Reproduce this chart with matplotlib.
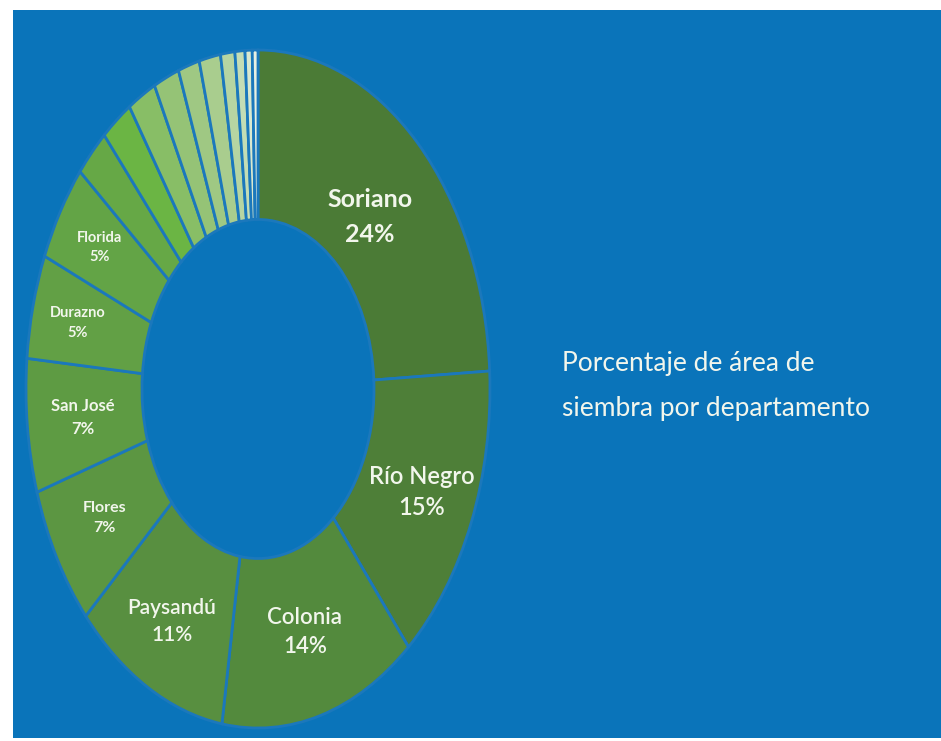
import matplotlib.pyplot as plt
import numpy as np

# Datos: porcentaje de area de siembra por departamento
departamentos = ["Soriano", "Río Negro", "Colonia", "Paysandú",
                 "Flores", "San José", "Durazno", "Florida"]
valores = [24.3, 14.7, 13.8, 10.9, 6.8, 6.4, 5.0, 4.7]
etiquetas_pct = ["24%", "15%", "14%", "11%", "7%", "7%", "5%", "5%"]
# resto de departamentos (sin etiqueta)
otros = [2.4, 2.2, 2.0, 1.8, 1.5, 1.5, 1.0, 0.7, 0.5, 0.4]

colores = ["#4B7B36", "#4E7F38", "#538A3D", "#588F40", "#5C9642",
           "#5E9B43", "#62A045", "#63A446",
           "#66A846", "#6BB544", "#88BE66", "#95C376", "#9FC883",
           "#A9CD8E", "#B6D5A2", "#C4DDB5", "#D9E8CF", "#E8F0E2"]

azul = "#0A74BA"
texto = "#F2F6EC"
fuente = ["Lato", "DejaVu Sans"]

fig = plt.figure(figsize=(9.41, 7.41), dpi=100, facecolor="white")
# fondo azul
fondo = fig.add_axes([13 / 941, 3 / 741, 928 / 941, 728 / 741], zorder=-5)
fondo.set_facecolor(azul)
fondo.set_xticks([])
fondo.set_yticks([])
for s in fondo.spines.values():
    s.set_visible(False)

ax = fig.add_axes([26 / 941, 13 / 741, 464 / 941, 678 / 741], zorder=1)
ax.set_facecolor("none")
wedges, _ = ax.pie(valores + otros, colors=colores, startangle=90, counterclock=False,
                   wedgeprops=dict(width=0.5, edgecolor="#1B78BC", linewidth=2))
ax.set_aspect("auto")
ax.set_xlim(-1, 1)
ax.set_ylim(-1, 1)
ax.axis("off")

# tamanos de fuente por etiqueta
tam = [18, 17, 16, 15, 11.5, 12, 10.5, 10.5]
peso = ["bold", "semibold", "semibold", "semibold", "bold", "bold", "bold", "bold"]
dist = [0.7, 0.77, 0.745, 0.78, 0.765, 0.76, 0.8, 0.8]
interl = [1.65, 1.45, 1.45, 1.4, 1.5, 1.55, 1.5, 1.5]
for i, w in enumerate(wedges[:len(departamentos)]):
    ang = np.deg2rad((w.theta1 + w.theta2) / 2)
    ax.text(dist[i] * np.cos(ang), dist[i] * np.sin(ang),
            departamentos[i] + "\n" + etiquetas_pct[i],
            ha="center", va="center", color=texto, fontsize=tam[i],
            fontweight=peso[i], linespacing=interl[i], family=fuente)

fig.text(562 / 941, 1 - 386 / 741, "Porcentaje de área de\nsiembra por departamento",
         ha="left", va="center", color=texto, fontsize=19, linespacing=2.0,
         fontweight="normal", family=fuente)

plt.savefig("out.png", dpi=100, facecolor="white")
